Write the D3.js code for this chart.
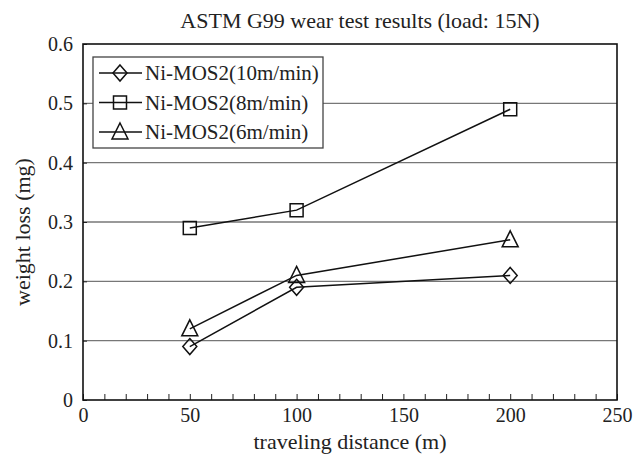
<!DOCTYPE html>
<html>
<head>
<meta charset="utf-8">
<script src="https://cdn.jsdelivr.net/npm/d3@7"></script>
<style>
  body { margin: 0; background: #fff; }
  svg { font-family: "Liberation Serif", "DejaVu Serif", serif; }
</style>
</head>
<body>
<div id="chart"></div>
<script>
const distances = [50, 100, 200];
const seriesNames = ['Ni-MOS2(10m/min)', 'Ni-MOS2(8m/min)', 'Ni-MOS2(6m/min)'];
const loss10 = [0.09, 0.19, 0.21];
const loss8 = [0.29, 0.32, 0.49];
const loss6 = [0.12, 0.21, 0.27];
const xTicks = [0, 50, 100, 150, 200, 250];
const yTicks = [0, 0.1, 0.2, 0.3, 0.4, 0.5, 0.6];

const width = 643, height = 466;
const margin = { top: 44, right: 26, bottom: 66, left: 83 };
const innerW = width - margin.left - margin.right;
const innerH = height - margin.top - margin.bottom;

const svg = d3.select('#chart')
  .append('svg')
  .attr('width', width)
  .attr('height', height);

const g = svg.append('g')
  .attr('transform', `translate(${margin.left},${margin.top})`);

const x = d3.scaleLinear().domain([0, 250]).range([0, innerW]);
const y = d3.scaleLinear().domain([0, 0.6]).range([innerH, 0]);

// horizontal grid lines
g.append('g')
  .selectAll('line')
  .data(yTicks.slice(1, -1))
  .join('line')
  .attr('x1', 0).attr('x2', innerW)
  .attr('y1', d => y(d)).attr('y2', d => y(d))
  .attr('stroke', '#777')
  .attr('stroke-width', 1.3);

// x axis: minor ticks every 10, pointing inward
const xAxis = g.append('g')
  .attr('transform', `translate(0,${innerH})`)
  .call(d3.axisBottom(x).tickValues(d3.range(0, 251, 10)).tickSize(-6).tickFormat(''));
xAxis.select('.domain').remove();
xAxis.selectAll('line').attr('stroke', '#222');

g.append('g')
  .attr('transform', `translate(0,${innerH})`)
  .call(d3.axisBottom(x).tickValues(xTicks).tickSize(0).tickPadding(8).tickFormat(d3.format('d')))
  .call(a => a.select('.domain').remove())
  .selectAll('text')
  .attr('font-size', 20)
  .attr('font-family', '"Liberation Serif", serif')
  .attr('fill', '#222');

// y axis labels with small inward ticks
const yAxis = g.append('g')
  .call(d3.axisLeft(y).tickValues(yTicks).tickSize(-4).tickPadding(10)
    .tickFormat(d => d === 0 ? '0' : d3.format('.1f')(d)));
yAxis.select('.domain').remove();
yAxis.selectAll('line').attr('stroke', '#222');
yAxis.selectAll('text')
  .attr('font-size', 20)
  .attr('font-family', '"Liberation Serif", serif')
  .attr('fill', '#222');

// plot frame
g.append('rect')
  .attr('width', innerW).attr('height', innerH)
  .attr('fill', 'none')
  .attr('stroke', '#111')
  .attr('stroke-width', 1.6);

const series = [
  { name: seriesNames[0], values: loss10, shape: 'diamond' },
  { name: seriesNames[1], values: loss8, shape: 'square' },
  { name: seriesNames[2], values: loss6, shape: 'triangle' }
];

function markerPath(shape) {
  if (shape === 'diamond') return 'M0,-8L7,0L0,8L-7,0Z';
  if (shape === 'square') return 'M-6.5,-6.5H6.5V6.5H-6.5Z';
  return 'M0,-9L8,7H-8Z';
}

const line = d3.line()
  .x((d, i) => x(distances[i]))
  .y(d => y(d));

series.forEach(s => {
  g.append('path')
    .datum(s.values)
    .attr('fill', 'none')
    .attr('stroke', '#111')
    .attr('stroke-width', 1.5)
    .attr('d', line);
  g.append('g')
    .selectAll('path')
    .data(s.values)
    .join('path')
    .attr('transform', (d, i) => `translate(${x(distances[i])},${y(d)})`)
    .attr('d', markerPath(s.shape))
    .attr('fill', 'none')
    .attr('stroke', '#111')
    .attr('stroke-width', 1.5);
});

// legend
const legend = g.append('g').attr('transform', 'translate(10,13)');
legend.append('rect')
  .attr('width', 230).attr('height', 91)
  .attr('fill', '#fff')
  .attr('stroke', '#444')
  .attr('stroke-width', 1.3);
series.forEach((s, i) => {
  const ly = 16 + i * 29.5;
  legend.append('line')
    .attr('x1', 6).attr('x2', 49)
    .attr('y1', ly).attr('y2', ly)
    .attr('stroke', '#111').attr('stroke-width', 1.5);
  legend.append('path')
    .attr('transform', `translate(27,${ly})`)
    .attr('d', markerPath(s.shape))
    .attr('fill', 'none')
    .attr('stroke', '#111')
    .attr('stroke-width', 1.5);
  legend.append('text')
    .attr('x', 52).attr('y', ly)
    .attr('dy', '0.35em')
    .attr('font-size', 21)
    .attr('fill', '#222')
    .text(s.name);
});

// titles
svg.append('text')
  .attr('x', 360)
  .attr('y', 28)
  .attr('text-anchor', 'middle')
  .attr('font-size', 22)
  .attr('fill', '#222')
  .text('ASTM G99 wear test results (load: 15N)');

svg.append('text')
  .attr('x', margin.left + innerW / 2)
  .attr('y', 449)
  .attr('text-anchor', 'middle')
  .attr('font-size', 22)
  .attr('fill', '#222')
  .text('traveling distance (m)');

svg.append('text')
  .attr('transform', `translate(30,${margin.top + innerH / 2 + 10}) rotate(-90)`)
  .attr('text-anchor', 'middle')
  .attr('font-size', 22)
  .attr('fill', '#222')
  .text('weight loss (mg)');
</script>
</body>
</html>
